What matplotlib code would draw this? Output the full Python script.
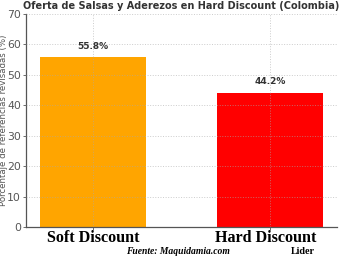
import matplotlib
matplotlib.use("Agg")
import matplotlib.pyplot as plt
from matplotlib.transforms import ScaledTranslation

categories = ["Soft Discount", "Hard Discount"]
values = [55.8, 44.2]
colors = ["#FFA500", "#FF0000"]
yticks = [0, 10, 20, 30, 40, 50, 60, 70]

fig = plt.figure(figsize=(3.41, 2.63), dpi=100)
ax = fig.add_axes([26/341, 1 - 227/263, (337-26)/341, (227-14)/263])

x = list(range(len(categories)))
bars = ax.bar(x, values, width=0.6, color=colors)
ax.set_xlim(-0.38, 1.38)
ax.set_ylim(0, 70)
ax.set_yticks(yticks)
ax.grid(True, linestyle=":", color="#aaaaaa", alpha=0.6, linewidth=0.7)
ax.set_axisbelow(False)

for s in ["top", "right"]:
    ax.spines[s].set_visible(False)
for s in ["left", "bottom"]:
    ax.spines[s].set_color("#555555")
    ax.spines[s].set_linewidth(0.9)

ax.tick_params(axis="y", labelsize=7.8, colors="#555555", length=2, width=0.6, pad=1.5)
ax.tick_params(axis="x", length=2, width=0.6, colors="#555555", pad=0.5)
ax.set_xticks(x)
labels = ax.set_xticklabels(categories, family="Liberation Serif", fontweight="bold",
                            fontsize=11.6, color="black")
labels[1].set_transform(labels[1].get_transform() +
                        ScaledTranslation(-4/100, 0, fig.dpi_scale_trans))

for b, v in zip(bars, values):
    ax.text(b.get_x() + b.get_width()/2, v + 2, f"{v}%", ha="center", va="bottom",
            fontsize=6.5, fontweight="bold", color="#333333")

ax.set_ylabel("Porcentaje de referencias revisadas (%)", fontsize=6.2, color="#555555")
ax.yaxis.set_label_coords(-0.058, 0.5)
ax.set_title("Oferta de Salsas y Aderezos en Hard Discount (Colombia)", fontsize=7,
             fontweight="bold", color="#333333", pad=3.5)

fig.text(178/341, 1 - 252/263, "Fuente: Maquidamia.com", family="Liberation Serif",
         style="italic", fontweight="bold", fontsize=6.9, ha="center", va="center")
fig.text(303/341, 1 - 251.5/263, "Lider", family="Liberation Serif",
         fontweight="bold", fontsize=7.3, ha="center", va="center")

fig.savefig("out.png", dpi=100)
